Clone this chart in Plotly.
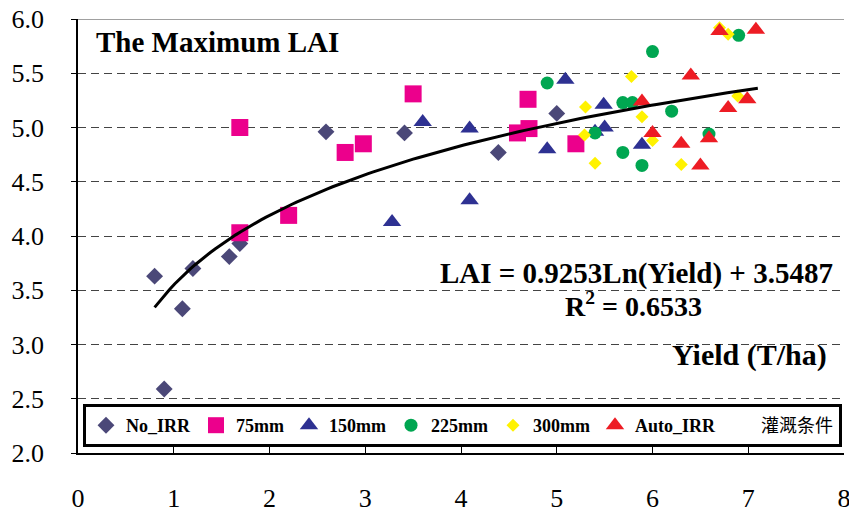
import numpy as np
import plotly.graph_objects as go

# ---- data ----
noirr_x = [0.80, 0.90, 1.09, 1.20, 1.58, 1.69, 2.59, 3.41, 4.39, 5.00]
noirr_y = [3.63, 2.59, 3.33, 3.70, 3.81, 3.93, 4.96, 4.95, 4.77, 5.13]

mm75_x = [1.69, 1.69, 2.20, 2.79, 2.98, 3.50, 4.59, 4.70, 4.71, 5.20]
mm75_y = [5.00, 4.03, 4.19, 4.77, 4.85, 5.31, 4.95, 5.26, 4.99, 4.85]

mm150_x = [3.28, 3.60, 4.09, 4.09, 4.90, 5.09, 5.40, 5.49, 5.50, 5.89]
mm150_y = [4.13, 5.05, 4.99, 4.33, 4.80, 5.44, 4.96, 5.21, 5.00, 4.84]

mm225_x = [4.90, 5.40, 5.69, 5.69, 5.79, 6.00, 6.20, 6.59, 5.89, 6.90]
mm225_y = [5.41, 4.95, 4.77, 5.23, 5.23, 5.70, 5.15, 4.94, 4.65, 5.85]

mm300_x = [5.29, 5.30, 5.40, 5.78, 5.89, 6.00, 6.30, 6.70, 6.79, 6.89]
mm300_y = [4.93, 5.19, 4.67, 5.47, 5.10, 4.88, 4.66, 5.92, 5.86, 5.29]

auto_x = [5.89, 6.00, 6.30, 6.40, 6.50, 6.59, 6.70, 6.79, 6.99, 7.08]
auto_y = [5.24, 4.95, 4.85, 5.48, 4.65, 4.90, 5.89, 5.18, 5.26, 5.90]

# logarithmic trendline as printed on the chart
TREND_A = 0.9253
TREND_B = 3.5487
TREND_XMIN = 0.8
TREND_XMAX = 7.1

x_ticks = [0, 1, 2, 3, 4, 5, 6, 7, 8]
y_ticks = [2.0, 2.5, 3.0, 3.5, 4.0, 4.5, 5.0, 5.5, 6.0]

SERIF = "Liberation Serif"
CJK = "Noto Sans CJK SC"

L, R, T, B = 78, 5, 19, 60
W, H = 849, 513
PW = W - L - R
PH = H - T - B

fig = go.Figure()

series = [
    ("No_IRR", noirr_x, noirr_y, "diamond", 13, "#4B4878"),
    ("75mm", mm75_x, mm75_y, "square", 17, "#EC008C"),
    ("150mm", mm150_x, mm150_y, "triangle-up", 16, "#2E3192"),
    ("225mm", mm225_x, mm225_y, "circle", 13, "#00A651"),
    ("300mm", mm300_x, mm300_y, "diamond", 10, "#FFF200"),
    ("Auto_IRR", auto_x, auto_y, "triangle-up", 16, "#ED1C24"),
]
for name, xs, ys, sym, size, col in series:
    fig.add_trace(go.Scatter(
        x=xs, y=ys, mode="markers", name="<b>" + name + "</b>",
        marker=dict(symbol=sym, size=size, color=col, line=dict(width=0)),
    ))

tx = np.linspace(TREND_XMIN, TREND_XMAX, 120)
ty = TREND_A * np.log(tx) + TREND_B
fig.add_trace(go.Scatter(x=tx, y=ty, mode="lines", showlegend=False,
                         line=dict(color="black", width=3)))

# legend-only entry for the legend caption
fig.add_trace(go.Scatter(
    x=[None], y=[None], mode="markers", name="灌溉条件",
    marker=dict(size=1, color="rgba(0,0,0,0)"),
))

fig.update_layout(
    width=W, height=H,
    margin=dict(l=L, r=R, t=T, b=B, autoexpand=False),
    paper_bgcolor="white", plot_bgcolor="white",
    font=dict(family=SERIF, color="black"),
    showlegend=True,
    legend=dict(
        orientation="h", x=(83 - L) / PW, y=(H - B - 447) / PH,
        xanchor="left", yanchor="bottom",
        bgcolor="white", bordercolor="black", borderwidth=3,
        font=dict(family=SERIF + ", " + CJK, size=18, color="black"),
        itemwidth=30, tracegroupgap=0,
    ),
    xaxis=dict(
        range=[0, 8], tickvals=x_ticks, ticktext=[str(v) for v in x_ticks],
        showgrid=False, zeroline=False, automargin=False,
        showline=True, linecolor="black", linewidth=1.5,
        ticks="inside", ticklen=8, tickcolor="black", tickwidth=1,
        tickfont=dict(family=SERIF, size=26, color="black"),
        ticklabelstandoff=21, ticklabeloverflow="allow",
    ),
    yaxis=dict(
        range=[2, 6], tickvals=y_ticks, ticktext=["%.1f" % v for v in y_ticks],
        showgrid=True, gridcolor="#444444", gridwidth=1, griddash="8px,5px",
        zeroline=False, automargin=False,
        showline=True, linecolor="black", linewidth=1.5,
        ticks="outside", ticklen=5, tickcolor="black", tickwidth=1,
        tickfont=dict(family=SERIF, size=26, color="black"),
        ticklabelstandoff=22, ticklabeloverflow="allow",
    ),
)

fig.add_shape(type="line", xref="paper", yref="y", x0=0, x1=1, y0=6, y1=6,
              line=dict(color="#A0A0A0", width=2), layer="below")

def px2x(px):
    return (px - L) / float(PW)

def py2y(py):
    return (H - B - py) / float(PH)

fig.add_annotation(text="<b>The Maximum LAI</b>", xref="paper", yref="paper",
                   x=px2x(94), y=py2y(42), xanchor="left", yanchor="middle",
                   showarrow=False, font=dict(family=SERIF, size=29, color="black"))
fig.add_annotation(text="<b>LAI = 0.9253Ln(Yield) + 3.5487</b>", xref="paper", yref="paper",
                   x=px2x(835), y=py2y(273), xanchor="right", yanchor="middle",
                   showarrow=False, font=dict(family=SERIF, size=29, color="black"))
fig.add_annotation(text="<b>R<sup>2</sup> = 0.6533</b>", xref="paper", yref="paper",
                   x=px2x(633), y=py2y(304), xanchor="center", yanchor="middle",
                   showarrow=False, font=dict(family=SERIF, size=28, color="black"))
fig.add_annotation(text="<b>Yield (T/ha)</b>", xref="paper", yref="paper",
                   x=px2x(829), y=py2y(355), xanchor="right", yanchor="middle",
                   showarrow=False, font=dict(family=SERIF, size=30, color="black"))

fig.write_html("out.html")
